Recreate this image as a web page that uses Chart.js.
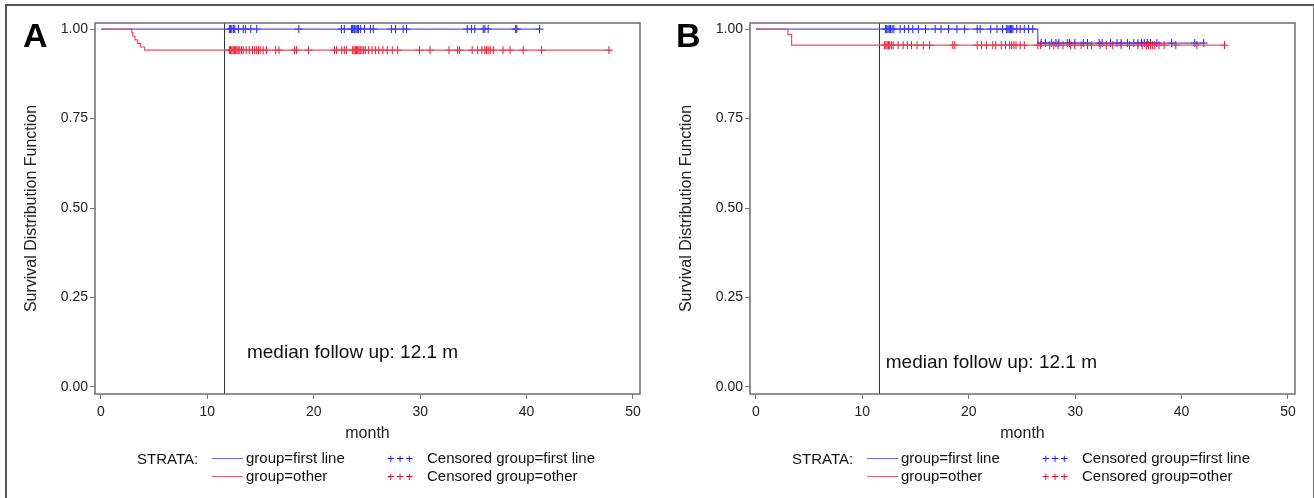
<!DOCTYPE html>
<html><head><meta charset="utf-8">
<script src="https://cdn.jsdelivr.net/npm/chart.js@4.4.1/dist/chart.umd.min.js"></script>
<style>
html,body{margin:0;padding:0;background:#fff;width:1314px;height:498px;overflow:hidden;font-family:'Liberation Sans',Arial,sans-serif;}
.border{position:absolute;left:5px;top:4px;width:1306px;height:520px;border:2px solid #555;border-right:1px solid #777;}
.panel{position:absolute;top:0;width:655px;height:498px;}
.tag{position:absolute;font:bold 34px 'Liberation Sans',Arial,sans-serif;color:#000;line-height:34px;}
.leg{position:absolute;font:15px 'Liberation Sans',Arial,sans-serif;color:#111;white-space:nowrap;line-height:16px;}
.ln{position:absolute;height:0;width:31px;border-top:1px solid;}
.plus{position:absolute;font:13px 'Liberation Sans',Arial,sans-serif;white-space:nowrap;line-height:16px;word-spacing:-2px;}
</style>
</head><body>
<div class="border"></div>
<div class="panel" style="left:0"><canvas id="cA" width="655" height="498"></canvas></div>
<div class="panel" style="left:655px"><canvas id="cB" width="655" height="498"></canvas></div>
<div class="tag" style="left:23px;top:18px">A</div>
<div class="tag" style="left:676px;top:18px">B</div>
<div id="legA"></div><div id="legB"></div>
<script>
// ---- tick values / labels ----
const monthTicks = [0, 10, 20, 30, 40, 50];
const survTicks = [0, 0.25, 0.5, 0.75, 1];
const survTickLabels = ['0.00', '0.25', '0.50', '0.75', '1.00'];

// ---- Panel A : Kaplan-Meier step curves ----
const aFirstTime = [0, 41.22];
const aFirstSurv = [1, 1];
const aOtherTime = [0, 2.9, 3.0, 3.2, 3.45, 3.7, 4.1, 47.74];
const aOtherSurv = [1, 0.99, 0.98, 0.97, 0.96, 0.95, 0.941, 0.941];
// censored times
const aFirstCensored = [12.07, 12.18, 12.30, 12.46, 12.58, 12.93, 13.37, 13.57, 14.08, 14.64, 18.6, 22.6, 22.87, 23.54, 23.65, 23.78, 23.85, 23.97, 24.09, 24.21, 24.41, 24.76, 25.32, 25.59, 27.29, 27.69, 28.40, 28.72, 34.42, 34.81, 35.13, 35.92, 36.08, 36.39, 38.97, 39.08, 41.22];
const aOtherCensored = [12.07, 12.18, 12.30, 12.42, 12.54, 12.66, 12.78, 12.90, 13.05, 13.21, 13.37, 13.65, 13.93, 14.24, 14.44, 14.64, 14.80, 14.96, 15.24, 15.55, 16.42, 16.73, 18.2, 18.39, 19.50, 21.95, 22.15, 22.63, 22.87, 23.06, 23.66, 23.78, 23.90, 24.01, 24.13, 24.25, 24.37, 24.53, 24.69, 24.84, 25.16, 25.48, 25.79, 26.11, 26.50, 26.90, 27.38, 27.89, 29.94, 30.93, 32.71, 33.51, 33.70, 34.89, 35.40, 35.80, 36.08, 36.23, 36.39, 36.59, 36.87, 37.78, 38.45, 39.68, 41.42, 47.74];

// ---- Panel B ----
const bFirstTime = [0, 26.49, 42.08];
const bFirstSurv = [1, 0.961, 0.961];
const bOtherTime = [0, 3.0, 3.35, 44.04];
const bOtherSurv = [1, 0.985, 0.955, 0.955];
const bFirstCensored = [12.17, 12.29, 12.41, 12.53, 12.64, 12.80, 12.96, 13.55, 13.95, 14.35, 14.74, 15.26, 15.93, 16.84, 17.39, 18.10, 18.89, 19.61, 20.79, 21.07, 22.06, 22.65, 23.17, 23.56, 23.68, 23.80, 23.92, 24.03, 24.15, 24.51, 24.83, 25.22, 25.62, 26.02, 26.80, 27.20, 27.79, 28.19, 28.47, 29.26, 29.46, 29.97, 30.76, 31.16, 32.26, 32.54, 33.33, 33.93, 34.32, 34.91, 35.51, 35.90, 36.22, 36.50, 36.77, 37.09, 37.68, 39.07, 41.24, 42.08];
const bOtherCensored = [12.09, 12.21, 12.33, 12.45, 12.57, 12.73, 12.89, 13.36, 13.83, 14.23, 14.62, 15.14, 15.73, 16.32, 18.50, 18.69, 20.79, 21.19, 21.66, 22.26, 22.54, 23.05, 23.45, 23.84, 24.03, 24.24, 24.44, 24.83, 25.22, 26.49, 26.73, 27.60, 27.99, 28.38, 28.86, 29.57, 29.97, 30.56, 31.16, 31.55, 32.34, 32.93, 33.53, 34.32, 35.11, 35.90, 36.30, 36.69, 36.89, 37.09, 37.28, 37.48, 37.88, 38.36, 39.46, 41.44, 44.04];

const medianFollowUp = 11.55;
const medianLabel = 'median follow up: 12.1 m';
const legendLabels = ['STRATA:', 'group=first line', 'group=other', 'Censored group=first line', 'Censored group=other'];

// ---- styling ----
const RED_LINE = '#f0505c', BLUE_LINE = '#5050ff';
const RED_MARK = '#e5102e', BLUE_MARK = '#1a1ae6';
const FONT = "'Liberation Sans', Arial, sans-serif";

function survAt(times, surv, t) {
  let v = surv[0];
  for (let i = 0; i < times.length; i++) if (times[i] <= t) v = surv[i];
  return v;
}
function pts(times, surv) { return times.map((t, i) => ({x: t, y: surv[i]})); }
function cens(ctimes, times, surv) { return ctimes.map(t => ({x: t, y: survAt(times, surv, t)})); }

const framePlugin = {
  id: 'kmframe',
  beforeDatasetsDraw(chart) {
    const {ctx, chartArea: a, scales} = chart;
    const x = Math.round(scales.x.getPixelForValue(medianFollowUp)) + 0.5;
    ctx.save();
    ctx.strokeStyle = '#333';
    ctx.lineWidth = 1;
    ctx.beginPath(); ctx.moveTo(x, a.top); ctx.lineTo(x, a.bottom); ctx.stroke();
    const o = chart.options.plugins.kmframe;
    ctx.fillStyle = '#111';
    ctx.font = '19px ' + FONT;
    ctx.textBaseline = 'middle';
    ctx.fillText(medianLabel, scales.x.getPixelForValue(o.tx), scales.y.getPixelForValue(o.ty));
    ctx.restore();
  },
  afterDatasetsDraw(chart) {
    const {ctx, chartArea: a} = chart;
    ctx.save();
    ctx.strokeStyle = '#6e6e6e';
    ctx.lineWidth = 1.5;
    ctx.strokeRect(a.left, a.top, a.right - a.left, a.bottom - a.top);
    ctx.restore();
  }
};

function makeChart(id, first, other, firstC, otherC, tx, ty) {
  return new Chart(document.getElementById(id), {
    type: 'scatter',
    data: {
      datasets: [
        {data: pts(other[0], other[1]), showLine: true, stepped: true, borderColor: RED_LINE, borderWidth: 1.2, pointRadius: 0},
        {data: cens(otherC, other[0], other[1]), showLine: false, pointStyle: 'cross', pointRadius: 4, borderColor: RED_MARK, borderWidth: 1},
        {data: pts(first[0], first[1]), showLine: true, stepped: true, borderColor: BLUE_LINE, borderWidth: 1.2, pointRadius: 0},
        {data: cens(firstC, first[0], first[1]), showLine: false, pointStyle: 'cross', pointRadius: 4, borderColor: BLUE_MARK, borderWidth: 1}
      ]
    },
    options: {
      responsive: false, animation: false, events: [],
      layout: {padding: {left: 18, top: 23, right: 15, bottom: 55}},
      plugins: {legend: {display: false}, tooltip: {enabled: false}, kmframe: {tx: tx, ty: ty}},
      scales: {
        x: {
          type: 'linear', min: -0.56, max: 50.66,
          afterBuildTicks: s => { s.ticks = monthTicks.map(v => ({value: v})); },
          afterFit: s => { s.height = 49; },
          grid: {drawOnChartArea: false, drawTicks: true, tickLength: 5, color: '#777'},
          border: {display: false},
          ticks: {color: '#222', font: {family: FONT, size: 14}, padding: 5, maxRotation: 0},
          title: {display: true, text: 'month', color: '#222', font: {family: FONT, size: 16}, padding: {top: 0, bottom: 0}}
        },
        y: {
          type: 'linear', min: -0.0196, max: 1.017,
          afterBuildTicks: s => { s.ticks = survTicks.map(v => ({value: v})); },
          afterFit: s => { s.width = 77; },
          grid: {drawOnChartArea: false, drawTicks: true, tickLength: 5, color: '#777'},
          border: {display: false},
          ticks: {color: '#222', font: {family: FONT, size: 14}, padding: 2,
                  callback: (v) => survTickLabels[survTicks.indexOf(v)]},
          title: {display: true, text: 'Survival Distribution Function', color: '#222', font: {family: FONT, size: 16}, padding: {top: 4, bottom: 4}}
        }
      }
    },
    plugins: [framePlugin]
  });
}

makeChart('cA', [aFirstTime, aFirstSurv], [aOtherTime, aOtherSurv], aFirstCensored, aOtherCensored, 13.72, 0.095);
makeChart('cB', [bFirstTime, bFirstSurv], [bOtherTime, bOtherSurv], bFirstCensored, bOtherCensored, 12.2, 0.067);

function legend(el, dx) {
  const row1 = 450, row2 = 468;
  el.innerHTML =
    `<div class="leg" style="left:${137+dx}px;top:${row1+1}px">${legendLabels[0]}</div>` +
    `<div class="ln" style="left:${212+dx}px;top:${row1+8}px;border-color:#6a6aff"></div>` +
    `<div class="leg" style="left:${246+dx}px;top:${row1}px">${legendLabels[1]}</div>` +
    `<div class="ln" style="left:${212+dx}px;top:${row2+8}px;border-color:#f05a66"></div>` +
    `<div class="leg" style="left:${246+dx}px;top:${row2}px">${legendLabels[2]}</div>` +
    `<div class="plus" style="left:${387+dx}px;top:${row1+1}px;color:${BLUE_MARK}">+ + +</div>` +
    `<div class="leg" style="left:${427+dx}px;top:${row1}px">${legendLabels[3]}</div>` +
    `<div class="plus" style="left:${387+dx}px;top:${row2+1}px;color:${RED_MARK}">+ + +</div>` +
    `<div class="leg" style="left:${427+dx}px;top:${row2}px">${legendLabels[4]}</div>`;
}
legend(document.getElementById('legA'), 0);
legend(document.getElementById('legB'), 655);
</script>
</body></html>
